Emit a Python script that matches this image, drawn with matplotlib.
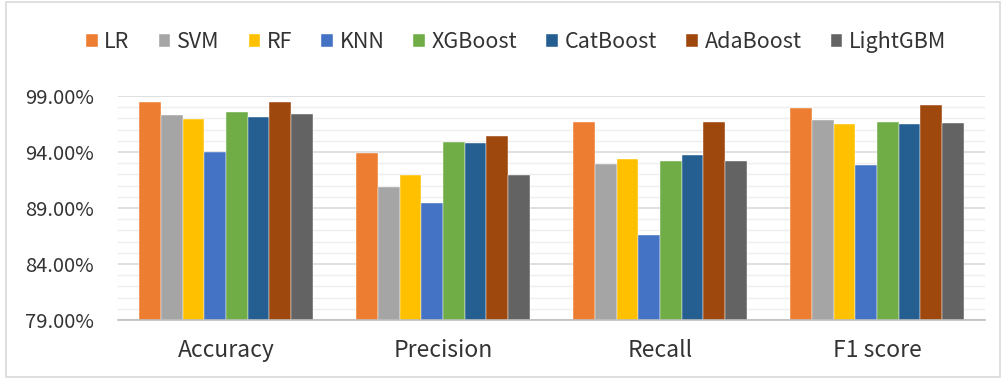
import numpy as np
import matplotlib
matplotlib.use('Agg')
import matplotlib.pyplot as plt
from matplotlib.patches import Rectangle
from matplotlib.ticker import FixedLocator, MultipleLocator, FuncFormatter

plt.rcParams['font.family'] = ['Noto Sans CJK SC', 'DejaVu Sans']

# 数据
metrics = ['Accuracy', 'Precision', 'Recall', 'F1 score']
models = ['LR', 'SVM', 'RF', 'KNN', 'XGBoost', 'CatBoost', 'AdaBoost', 'LightGBM']
colors = ['#ED7D31', '#A5A5A5', '#FFC000', '#4472C4', '#70AD47', '#255E91', '#9E480E', '#636363']
yticks = [79, 84, 89, 94, 99]

lr = [98.44, 93.94, 96.65, 97.96]
svm = [97.27, 90.90, 92.93, 96.86]
rf = [96.95, 91.92, 93.35, 96.47]
knn = [93.97, 89.42, 86.62, 92.81]
xgboost = [97.54, 94.86, 93.17, 96.65]
catboost = [97.15, 94.77, 93.73, 96.47]
adaboost = [98.44, 95.46, 96.65, 98.17]
lightgbm = [97.36, 91.92, 93.23, 96.56]
scores = [lr, svm, rf, knn, xgboost, catboost, adaboost, lightgbm]

fig = plt.figure(figsize=(10.06, 3.79), dpi=100)
ax = fig.add_axes([0.1168, 0.1557, 0.8628, 0.591])

x = np.arange(len(metrics))
w = 0.1
for i, (name, vals) in enumerate(zip(models, scores)):
    ax.bar(x + (i - 3.5) * w, vals, width=w, color=colors[i], label=name,
           edgecolor='white', linewidth=0.3, zorder=3)

ax.set_xlim(-0.5, 3.5)
ax.set_ylim(79, 99)
ax.yaxis.set_major_locator(FixedLocator(yticks))
ax.yaxis.set_minor_locator(MultipleLocator(1))
ax.yaxis.set_major_formatter(FuncFormatter(lambda v, p: '%.2f%%' % v))
ax.grid(which='major', axis='y', color='#D9D9D9', linewidth=1.2, zorder=0)
ax.grid(which='minor', axis='y', color='#EEEEEE', linewidth=1.0, zorder=0)
ax.set_xticks(x)
ax.set_xticklabels(metrics)
ax.tick_params(axis='both', which='both', length=0, colors='#333333')
ax.tick_params(axis='x', pad=14, labelsize=16.5)
ax.tick_params(axis='y', pad=17, labelsize=14.5)
for s in ['left', 'right', 'top']:
    ax.spines[s].set_visible(False)
ax.spines['bottom'].set_color('#BFBFBF')
ax.spines['bottom'].set_linewidth(1.2)
ax.spines['bottom'].set_zorder(4)

fig.legend(loc='center', bbox_to_anchor=(0.513, 0.888), ncol=8, frameon=False,
           fontsize=15.5, handlelength=0.55, handleheight=0.55, handletextpad=0.3,
           columnspacing=1.35, labelcolor='#333333')

fig.patches.append(Rectangle((0.006, 0.006), 0.988, 0.988, transform=fig.transFigure,
                             fill=False, edgecolor='#D9D9D9', linewidth=1.2))

fig.savefig('out.png', dpi=100)
